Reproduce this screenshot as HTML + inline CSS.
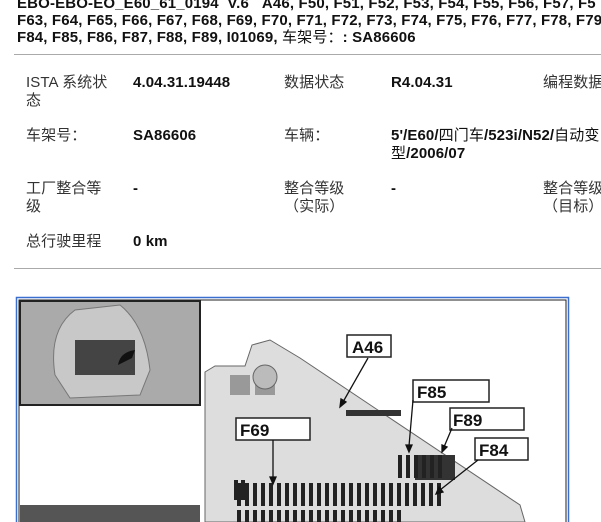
<!DOCTYPE html>
<html><head><meta charset="utf-8"><style>
body{margin:0;width:601px;height:522px;overflow:hidden;background:#fff;font-family:"Liberation Sans","Noto Sans CJK SC",sans-serif;position:relative}
.t{position:absolute;font-size:15px;line-height:18px;color:#333;white-space:nowrap;letter-spacing:0.1px}
.b{font-weight:bold;color:#111}
.hd{position:absolute;left:17px;font-size:15px;letter-spacing:0.15px;font-weight:bold;line-height:17px;color:#111;white-space:nowrap}
.hr{position:absolute;left:14px;width:587px;height:1px;background:#aaa}
</style></head><body>
<div class="hd" style="top:-5px">EBO-EBO-EO_E60_61_0194&nbsp;&nbsp;V.6&nbsp;&nbsp;&nbsp;A46, F50, F51, F52, F53, F54, F55, F56, F57, F5</div>
<div class="hd" style="top:12px">F63, F64, F65, F66, F67, F68, F69, F70, F71, F72, F73, F74, F75, F76, F77, F78, F79</div>
<div class="hd" style="top:29px">F84, F85, F86, F87, F88, F89, I01069, <span style="font-weight:normal">车架号：</span>: SA86606</div>
<div class="hr" style="top:54px"></div>

<div class="t" style="left:26px;top:74px">ISTA 系统状<br>态</div>
<div class="t b" style="left:133px;top:74px">4.04.31.19448</div>
<div class="t" style="left:284px;top:74px">数据状态</div>
<div class="t b" style="left:391px;top:74px">R4.04.31</div>
<div class="t" style="left:543px;top:74px">编程数据</div>

<div class="t" style="left:26px;top:127px">车架号：</div>
<div class="t b" style="left:133px;top:127px">SA86606</div>
<div class="t" style="left:284px;top:127px">车辆：</div>
<div class="t b" style="left:391px;top:127px">5'/E60/<span style="font-weight:normal">四门车</span>/523i/N52/<span style="font-weight:normal">自动变</span><br><span style="font-weight:normal">型</span>/2006/07</div>

<div class="t" style="left:26px;top:180px">工厂整合等<br>级</div>
<div class="t b" style="left:133px;top:180px">-</div>
<div class="t" style="left:284px;top:180px">整合等级<br>（实际）</div>
<div class="t b" style="left:391px;top:180px">-</div>
<div class="t" style="left:543px;top:180px">整合等级<br>（目标）</div>

<div class="t" style="left:26px;top:233px">总行驶里程</div>
<div class="t b" style="left:133px;top:233px">0 km</div>
<div class="hr" style="top:268px"></div>

<svg style="position:absolute;left:0;top:0" width="601" height="522">
<rect x="16.5" y="297.5" width="552" height="240" fill="#fff" stroke="#3a6fd0" stroke-width="1.5"/>
<rect x="19" y="300" width="547" height="240" fill="none" stroke="#222" stroke-width="1"/>
<rect x="20" y="301" width="180" height="104" fill="#aaa" stroke="#222" stroke-width="2"/>
<path d="M55 375 Q48 330 75 310 L120 305 Q145 325 150 370 L140 395 L70 398 Z" fill="#c8c8c8" stroke="#777"/>
<rect x="75" y="340" width="60" height="35" fill="#444"/>
<path d="M118 365 Q120 352 135 350 L132 358 Z" fill="#111"/>
<rect x="20" y="505" width="180" height="20" fill="#555"/>
<path d="M205 372 L215 366 L245 366 L252 345 L270 340 L300 358 L520 505 L525 522 L205 522 Z" fill="#ddd" stroke="#666"/>
<path d="M230 375 h20 v20 h-20z M255 375 h20 v20 h-20z" fill="#999"/>
<circle cx="265" cy="377" r="12" fill="#bbb" stroke="#666"/>
<g fill="#333">
<rect x="346" y="410" width="55" height="6"/><rect x="415" y="455" width="40" height="25"/>
</g>
<g fill="#222">
<rect x="234" y="480" width="4" height="20"/><rect x="241" y="480" width="4" height="20"/>
</g>
<g fill="#222">
<path d="M237 483h4v23h-4zM245 483h4v23h-4zM253 483h4v23h-4zM261 483h4v23h-4zM269 483h4v23h-4zM277 483h4v23h-4zM285 483h4v23h-4zM293 483h4v23h-4zM301 483h4v23h-4zM309 483h4v23h-4zM317 483h4v23h-4zM325 483h4v23h-4zM333 483h4v23h-4zM341 483h4v23h-4zM349 483h4v23h-4zM357 483h4v23h-4zM365 483h4v23h-4zM373 483h4v23h-4zM381 483h4v23h-4zM389 483h4v23h-4zM397 483h4v23h-4zM405 483h4v23h-4zM413 483h4v23h-4zM421 483h4v23h-4zM429 483h4v23h-4zM437 483h4v23h-4z"/>
<path d="M237 510h4v12h-4zM245 510h4v12h-4zM253 510h4v12h-4zM261 510h4v12h-4zM269 510h4v12h-4zM277 510h4v12h-4zM285 510h4v12h-4zM293 510h4v12h-4zM301 510h4v12h-4zM309 510h4v12h-4zM317 510h4v12h-4zM325 510h4v12h-4zM333 510h4v12h-4zM341 510h4v12h-4zM349 510h4v12h-4zM357 510h4v12h-4zM365 510h4v12h-4zM373 510h4v12h-4zM381 510h4v12h-4zM389 510h4v12h-4zM397 510h4v12h-4z"/>
<path d="M398 455h4v23h-4zM406 455h4v23h-4zM414 455h4v23h-4zM422 455h4v23h-4zM430 455h4v23h-4zM438 455h4v23h-4z"/>
</g>
<g fill="#fff" stroke="#222" stroke-width="1.5">
<rect x="347" y="335" width="44" height="22"/>
<rect x="413" y="380" width="76" height="22"/>
<rect x="450" y="408" width="74" height="22"/>
<rect x="475" y="438" width="53" height="22"/>
<rect x="236" y="418" width="74" height="22"/>
</g>
<g font-family="Liberation Sans" font-weight="bold" font-size="17" fill="#111">
<text x="352" y="353">A46</text>
<text x="417" y="398">F85</text>
<text x="453" y="426">F89</text>
<text x="479" y="456">F84</text>
<text x="240" y="436">F69</text>
</g>
<g stroke="#111" stroke-width="1.3" fill="#111">
<line x1="368" y1="358" x2="343" y2="402"/><path d="M340 407 l1-8 5 3z"/>
<line x1="413" y1="400" x2="409" y2="446"/><path d="M409 452 l-3-7 6 0z"/>
<line x1="452" y1="428" x2="444" y2="447"/><path d="M442 452 l0-7 5 2z"/>
<line x1="478" y1="460" x2="440" y2="490"/><path d="M436 494 l3-7 4 5z"/>
<line x1="273" y1="440" x2="273" y2="478"/><path d="M273 484 l-3-7 6 0z"/>
</g>
</svg>
</body></html>
